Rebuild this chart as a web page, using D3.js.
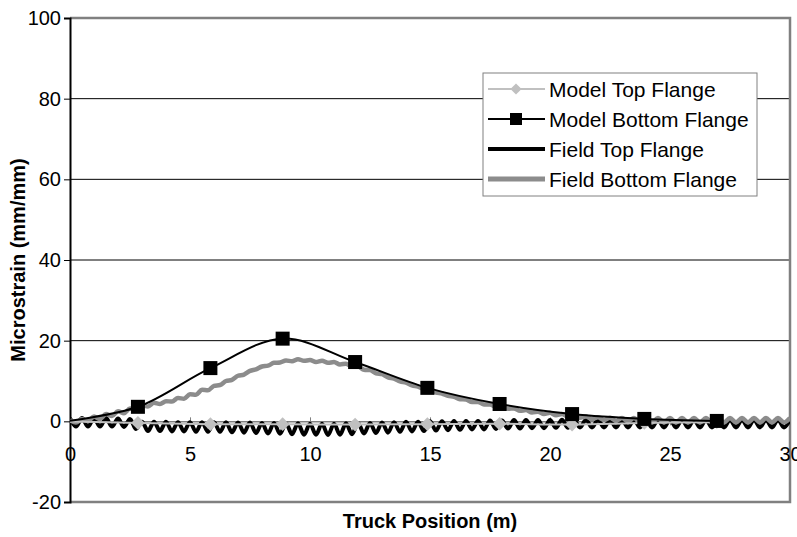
<!DOCTYPE html>
<html>
<head>
<meta charset="utf-8">
<script src="https://cdn.jsdelivr.net/npm/d3@7"></script>
<style>
  body { margin: 0; background: #fff; }
  text { font-family: "Liberation Sans", Arial, sans-serif; fill: #000; }
</style>
</head>
<body>
<svg id="chart" width="797" height="537"></svg>
<script>
// ---- data ----
const xTicks = [0, 5, 10, 15, 20, 25, 30]
const yTicks = [-20, 0, 20, 40, 60, 80, 100]

// model points (3 m spacing), first point sits just left of the axis
const modelX      = [-0.2, 2.83, 5.85, 8.86, 11.88, 14.89, 17.9, 20.92, 23.93, 26.95]
const modelTop    = [0.0, -0.4, -0.7, -0.7, -0.8, -0.7, -0.6, -0.8, -0.4, -0.2]
const modelBottom = [0.0, 3.6, 13.2, 20.5, 14.7, 8.3, 4.3, 1.8, 0.6, 0.1]

// field record, sampled every 0.25 m from 0 to 30 m
const fieldX = d3.range(0, 30.001, 0.25)
const fieldTop = [
  0.8,-1.3,0.8,-1.3,0.8,-1.3,0.8,-1.3,0.7,-1.4,0.6,-1.9,
  -0.1,-2.4,-0.1,-2.4,-0.1,-2.5,-0.2,-2.5,-0.2,-2.6,-0.2,-2.6,
  -0.2,-2.6,-0.2,-2.7,-0.3,-2.8,-0.3,-2.9,-0.4,-3.0,-0.4,-3.1,
  -0.5,-3.2,-0.5,-3.3,-0.6,-3.3,-0.6,-3.4,-0.6,-3.3,-0.5,-3.2,
  -0.4,-3.0,-0.4,-2.9,-0.3,-2.8,-0.2,-2.6,-0.1,-2.5,-0.1,-2.4,
  0.0,-2.3,0.0,-2.2,0.1,-2.1,0.1,-2.0,0.1,-2.0,0.2,-1.9,
  0.2,-1.8,0.3,-1.8,0.3,-1.7,0.3,-1.7,0.3,-1.6,0.4,-1.6,
  0.4,-1.5,0.4,-1.5,0.4,-1.5,0.4,-1.5,0.4,-1.5,0.4,-1.5,
  0.4,-1.5,0.4,-1.5,0.4,-1.5,0.4,-1.5,0.4,-1.5,0.4,-1.5,
  0.4,-1.5,0.4,-1.5,0.4,-1.5,0.4,-1.5,0.4,-1.5,0.4,-1.5,
  0.4
]
const fieldBottom = [
  0.3,-0.3,0.6,0.1,1.2,0.6,1.8,1.3,2.5,2.0,3.2,2.8,
  4.0,3.7,4.6,4.3,5.0,4.9,5.8,5.6,6.7,6.6,7.8,7.7,
  8.8,9.0,10.0,10.3,11.3,11.6,12.5,12.9,13.6,13.8,14.5,14.6,
  15.1,14.9,15.4,15.0,15.2,14.7,15.0,14.5,14.7,14.1,14.3,13.6,
  13.6,12.8,12.7,11.9,11.7,10.9,10.6,9.9,9.6,8.9,8.6,8.0,
  7.7,7.1,6.9,6.3,6.1,5.5,5.4,4.8,4.8,4.2,4.2,3.6,
  3.7,3.1,3.2,2.6,2.8,2.2,2.4,1.8,2.1,1.5,1.8,1.2,
  1.5,0.9,1.2,0.6,1.0,0.3,0.9,0.1,0.8,0.0,0.8,-0.2,
  0.8,-0.3,0.8,-0.3,0.8,-0.3,0.8,-0.3,0.8,-0.3,0.8,-0.3,
  0.8,-0.3,0.8,-0.3,0.8,-0.3,0.8,-0.3,0.8,-0.3,0.8,-0.3,
  0.8
]

const legendLabels = ["Model Top Flange", "Model Bottom Flange", "Field Top Flange", "Field Bottom Flange"]

// ---- layout ----
const svg = d3.select("#chart")
const plotL = 70, plotR = 790, plotT = 18, plotB = 502

const x = d3.scaleLinear().domain([0, 30]).range([plotL, plotR])
const y = d3.scaleLinear().domain([-20, 100]).range([plotB, plotT])

const lightGray = "#c0c0c0", midGray = "#8c8c8c", frameGray = "#808080"

svg.append("defs").append("clipPath").attr("id", "plotClip")
  .append("rect").attr("x", plotL).attr("y", plotT)
  .attr("width", plotR - plotL).attr("height", plotB - plotT)

// gridlines
svg.append("g")
  .selectAll("line")
  .data(yTicks.filter(d => d > 0 && d < 100))
  .join("line")
  .attr("x1", plotL).attr("x2", plotR)
  .attr("y1", d => y(d)).attr("y2", d => y(d))
  .attr("stroke", "#000").attr("stroke-width", 1)

// frame: top, right, bottom in gray
svg.append("path")
  .attr("d", `M${plotL},${plotT}H${plotR}V${plotB}H${plotL}`)
  .attr("fill", "none").attr("stroke", frameGray).attr("stroke-width", 2.5)

// x axis along zero
const xAxis = svg.append("g")
  .attr("transform", `translate(0,${y(0)})`)
  .call(d3.axisBottom(x).tickValues(xTicks).tickSize(0).tickFormat(d => String(d)))
xAxis.attr("font-family", null).attr("font-size", null)
xAxis.select(".domain").attr("stroke", frameGray).attr("stroke-width", 1.5)
xAxis.selectAll(".tick line").remove()
xAxis.selectAll(".tick").append("line")
  .attr("y1", -4).attr("y2", 4).attr("stroke", frameGray)
xAxis.selectAll(".tick text")
  .attr("y", 25).attr("font-size", 20)

// y axis
const yAxis = svg.append("g")
  .attr("transform", `translate(${plotL},0)`)
  .call(d3.axisLeft(y).tickValues(yTicks).tickSize(6).tickPadding(3).tickFormat(d => String(d)))
yAxis.attr("font-family", null).attr("font-size", null)
yAxis.select(".domain").attr("stroke", "#000").attr("stroke-width", 2)
yAxis.selectAll(".tick line").attr("stroke", "#000")
yAxis.selectAll(".tick text").attr("font-size", 20)

// series
const plot = svg.append("g").attr("clip-path", "url(#plotClip)")

const fieldLine = d3.line().x((d, i) => x(fieldX[i])).y(d => y(d)).curve(d3.curveMonotoneX)
const modelLine = d3.line().x((d, i) => x(modelX[i])).y(d => y(d)).curve(d3.curveCatmullRom.alpha(0.5))

plot.append("path").datum(fieldTop).attr("d", fieldLine)
  .attr("fill", "none").attr("stroke", "#000").attr("stroke-width", 4)
plot.append("path").datum(fieldBottom).attr("d", fieldLine)
  .attr("fill", "none").attr("stroke", midGray).attr("stroke-width", 4.5)

plot.append("path").datum(modelTop).attr("d", modelLine)
  .attr("fill", "none").attr("stroke", lightGray).attr("stroke-width", 2)
const diamond = d3.symbol().type(d3.symbolDiamond2).size(120)
plot.append("g").selectAll("path")
  .data(modelTop.map((v, i) => [modelX[i], v]).filter(d => d[0] >= 0))
  .join("path")
  .attr("transform", d => `translate(${x(d[0])},${y(d[1])})`)
  .attr("d", diamond).attr("fill", lightGray)

plot.append("path").datum(modelBottom).attr("d", modelLine)
  .attr("fill", "none").attr("stroke", "#000").attr("stroke-width", 2)
plot.append("g").selectAll("rect")
  .data(modelBottom.map((v, i) => [modelX[i], v]).filter(d => d[0] >= 0))
  .join("rect")
  .attr("x", d => x(d[0]) - 7).attr("y", d => y(d[1]) - 7)
  .attr("width", 14).attr("height", 14).attr("fill", "#000")

// axis titles
svg.append("text")
  .attr("x", (plotL + plotR) / 2).attr("y", 528)
  .attr("text-anchor", "middle").attr("font-size", 20).attr("font-weight", "bold")
  .text("Truck Position (m)")
svg.append("text")
  .attr("transform", `translate(25,${(plotT + plotB) / 2}) rotate(-90)`)
  .attr("text-anchor", "middle").attr("font-size", 20).attr("font-weight", "bold")
  .text("Microstrain (mm/mm)")

// legend
const lg = svg.append("g").attr("transform", "translate(483,73)")
lg.append("rect").attr("width", 274).attr("height", 123)
  .attr("fill", "#fff").attr("stroke", frameGray).attr("stroke-width", 1)

const rowY = d => 16 + d * 30
const styles = [
  { stroke: lightGray, width: 2, marker: "diamond" },
  { stroke: "#000", width: 2, marker: "square" },
  { stroke: "#000", width: 4, marker: null },
  { stroke: midGray, width: 5, marker: null }
]
const rows = lg.selectAll(".row").data(legendLabels).join("g")
  .attr("class", "row").attr("transform", (d, i) => `translate(0,${rowY(i)})`)
rows.append("line").attr("x1", 5).attr("x2", 62)
  .attr("stroke", (d, i) => styles[i].stroke)
  .attr("stroke-width", (d, i) => styles[i].width)
rows.filter((d, i) => styles[i].marker === "diamond").append("path")
  .attr("transform", "translate(33,0)").attr("d", d3.symbol().type(d3.symbolDiamond2).size(80))
  .attr("fill", lightGray)
rows.filter((d, i) => styles[i].marker === "square").append("rect")
  .attr("x", 27).attr("y", -6).attr("width", 12).attr("height", 12).attr("fill", "#000")
rows.append("text").attr("x", 66).attr("dy", "0.36em")
  .attr("font-size", 21).text(d => d)
</script>
</body>
</html>
